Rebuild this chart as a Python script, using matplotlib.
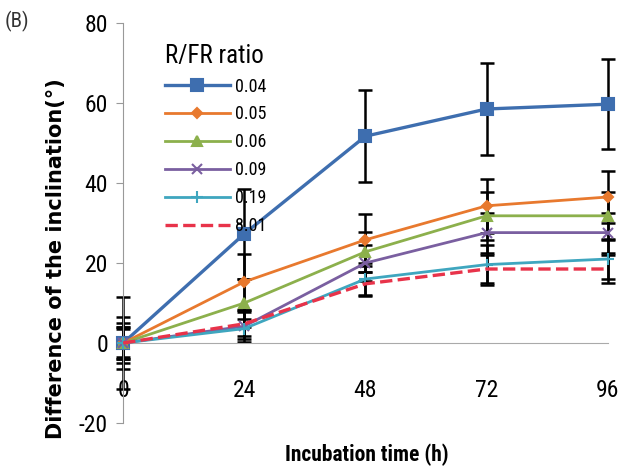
import numpy as np
import matplotlib
matplotlib.use('Agg')
import matplotlib.pyplot as plt

plt.rcParams['axes.unicode_minus'] = False
NARROW = ['Roboto Condensed', 'PT Sans Narrow', 'DejaVu Sans']

# incubation time (h)
hours = [0, 24, 48, 72, 96]
ratios = ['0.04', '0.05', '0.06', '0.09', '0.19', '8.01']

# mean inclination difference per ratio
r004 = [0, 27.3, 51.7, 58.5, 59.7]
r005 = [0, 15.3, 25.8, 34.3, 36.5]
r006 = [0, 10.0, 22.8, 31.8, 31.8]
r009 = [0, 4.2, 20.0, 27.6, 27.6]
r019 = [0, 3.6, 16.0, 19.6, 21.0]
r801 = [0, 4.8, 14.8, 18.5, 18.5]

# error bars
e004 = [11.5, 11.2, 11.5, 11.6, 11.3]
e005 = [6.5, 7.0, 6.5, 6.7, 6.5]
e006 = [5.0, 6.0, 5.0, 6.0, 6.0]
e009 = [4.0, 4.0, 4.5, 5.0, 5.0]
e019 = [3.5, 2.5, 4.0, 5.0, 5.0]
e801 = [4.0, 3.0, 3.0, 3.5, 3.5]

series = [r004, r005, r006, r009, r019, r801]
errs = [e004, e005, e006, e009, e019, e801]
colors = ['#3e6eaf', '#e8792e', '#8cb04c', '#7a5fa0', '#3fa6bf', '#e8334a']
markers = ['s', 'D', '^', 'x', '+', None]
msizes = [9, 5, 7, 7, 9, 0]
lws = [2.4, 2.0, 2.0, 2.0, 2.0, 2.4]
styles = ['-', '-', '-', '-', '-', '--']

fig = plt.figure(figsize=(6.22, 4.69), dpi=100)
ax = fig.add_axes([0.198, 0.098, 0.779, 0.853])

for y, e, c, m, ms, lw, ls, lab in zip(series, errs, colors, markers, msizes, lws, styles, ratios):
    ax.errorbar(hours, y, yerr=e, fmt='none', ecolor='black', elinewidth=1.8,
                capsize=5, capthick=1.8, zorder=2, clip_on=False)
    ax.plot(hours, y, color=c, lw=lw, ls=ls, marker=m, ms=ms, mew=1.5,
            label=lab, zorder=3, clip_on=False)

ax.set_xlim(0, 96)
ax.set_ylim(-20, 80)
ax.set_yticks([-20, 0, 20, 40, 60, 80])
ax.set_xticks(hours)
ax.spines['top'].set_visible(False)
ax.spines['right'].set_visible(False)
ax.spines['left'].set_color('#999999')
ax.spines['bottom'].set_position(('data', 0))
ax.spines['bottom'].set_color('#aaaaaa')
ax.tick_params(axis='y', direction='out', length=5, color='#999999', labelsize=17, pad=6)
ax.tick_params(axis='x', length=0, labelsize=17, pad=26)
for t in ax.get_xticklabels() + ax.get_yticklabels():
    t.set_family(NARROW)

ax.set_ylabel('Difference of the inclination(°)', fontsize=15, fontweight='bold')
ax.yaxis.set_label_coords(-0.117, 0.41)
fig.text(0.589, 0.03, 'Incubation time (h)', ha='center', va='center', fontsize=15.5,
         fontweight='bold', family=NARROW)
fig.text(0.008, 0.955, '(B)', fontsize=15, color='#333333', va='center', family=NARROW)

leg = ax.legend(loc='upper left', bbox_to_anchor=(0.06, 0.98), frameon=False,
                title='R/FR ratio', handlelength=3.6, labelspacing=0.55,
                handletextpad=0.3, alignment='left', borderpad=0.2,
                prop={'family': NARROW, 'size': 13})
leg.get_title().set_fontsize(18)
leg.get_title().set_family(NARROW)

fig.savefig('out.png', dpi=100)
